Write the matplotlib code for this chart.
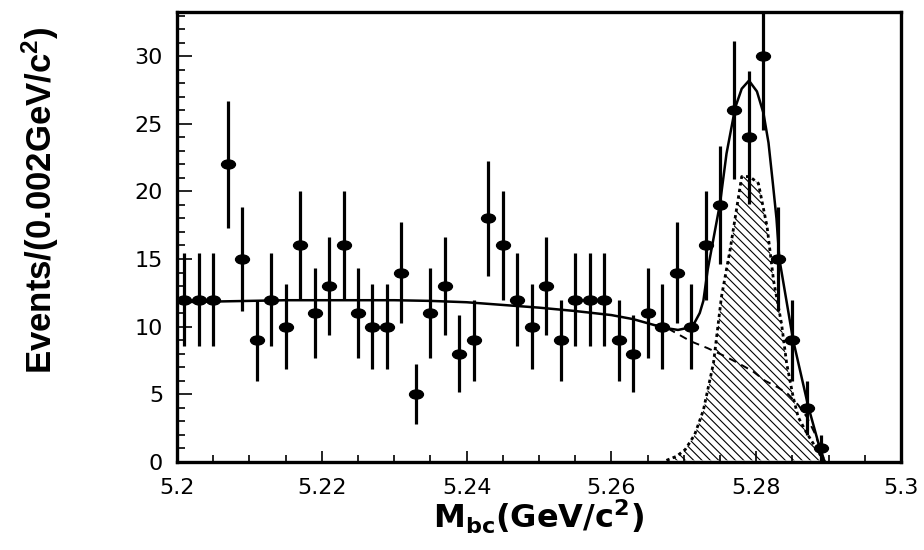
import numpy as np
import matplotlib
matplotlib.use('Agg')
import matplotlib.path as mpath
from matplotlib.transforms import Affine2D
from matplotlib import pyplot as plt

# histogram: events per 0.002 GeV/c^2 bin, starting at 5.200
bin_start = 5.200
bin_width = 0.002
counts = [12, 12, 12, 22, 15, 9, 12, 10, 16, 11,
          13, 16, 11, 10, 10, 14, 5, 11, 13, 8,
          9, 18, 16, 12, 10, 13, 9, 12, 12, 12,
          9, 8, 11, 10, 14, 10, 16, 19, 26, 24,
          30, 15, 9, 4, 1]

# total fit (solid)
fit_x = [5.200, 5.205, 5.210, 5.215, 5.220, 5.225, 5.230, 5.235, 5.240, 5.245,
         5.250, 5.255, 5.260, 5.263, 5.266, 5.268, 5.2692, 5.2705, 5.2715, 5.2722,
         5.2727, 5.2733, 5.2742, 5.2750, 5.2759, 5.2771, 5.2780, 5.2790, 5.2801, 5.2810,
         5.2817, 5.2823, 5.2828, 5.2832, 5.2851, 5.2872, 5.2891, 5.2895]
fit_y = [11.8, 11.85, 11.9, 11.95, 11.95, 11.95, 11.95, 11.9, 11.8, 11.6,
         11.4, 11.15, 10.85, 10.55, 10.1, 9.85, 9.75, 9.9, 10.3, 11.0,
         11.9, 14.2, 16.8, 19.1, 22.8, 26.2, 27.6, 28.2, 27.4, 25.8,
         23.6, 20.6, 18.0, 15.0, 9.0, 4.07, 0.4, 0.0]

# background (dashed)
bkg_x = [5.266, 5.268, 5.2690, 5.2710, 5.2733, 5.2755, 5.2775, 5.2795, 5.2812, 5.2830,
         5.2844, 5.2858, 5.2870, 5.2880, 5.2888, 5.2895]
bkg_y = [10.1, 9.8, 9.5, 8.9, 8.4, 7.85, 7.3, 6.7, 6.0, 5.5,
         5.0, 4.2, 3.3, 2.2, 1.1, 0.0]

# signal component (hatched)
sig_x = [5.2676, 5.2690, 5.2702, 5.2715, 5.2727, 5.2741, 5.2752, 5.2764, 5.2780, 5.2791,
         5.2803, 5.2815, 5.2824, 5.2835, 5.2842, 5.2851, 5.2858, 5.2870, 5.2884, 5.2893]
sig_y = [0.1, 0.4, 0.9, 2.0, 3.8, 7.3, 12.2, 15.7, 21.1, 21.1,
         20.6, 17.4, 13.4, 10.2, 7.3, 4.8, 3.3, 2.1, 0.9, 0.1]


def main():
    plt.rcParams['font.family'] = ['DejaVu Sans']
    plt.rcParams['mathtext.default'] = 'regular'
    plt.rcParams['hatch.linewidth'] = 0.8

    fig = plt.figure(figsize=(9.24, 5.5), dpi=100)
    ax = fig.add_axes([177 / 924, 1 - 461.7 / 550, 724 / 924, 450 / 550])

    x = np.round(bin_start + bin_width * (np.arange(len(counts)) + 0.5), 4)
    y = np.array(counts, dtype=float)
    err = np.sqrt(y)

    # signal shape
    ax.fill(sig_x, sig_y, facecolor='none', edgecolor='black', hatch='\\\\\\\\', linewidth=0)
    ax.plot(sig_x, sig_y, color='black', linestyle=(0, (1.2, 1.2)), linewidth=2.0)

    ax.plot(bkg_x, bkg_y, color='black', linestyle=(0, (4, 3)), linewidth=1.4)
    ax.plot(fit_x, fit_y, color='black', linewidth=1.8)

    ellipse = mpath.Path.unit_circle().transformed(Affine2D().scale(1.0, 0.65))
    ax.errorbar(x, y, yerr=err, fmt='none', ecolor='black', elinewidth=2.3)
    ax.plot(x, y, linestyle='none', marker=ellipse, markersize=10, color='black')

    ax.set_xlim(5.2, 5.3)
    ax.set_ylim(0, 33.3)
    ax.set_xticks([5.2, 5.22, 5.24, 5.26, 5.28, 5.3])
    ax.set_xticklabels(['5.2', '5.22', '5.24', '5.26', '5.28', '5.3'])
    ax.set_xticks(np.arange(5.2, 5.3, 0.005), minor=True)
    ax.set_yticks([0, 5, 10, 15, 20, 25, 30])
    ax.set_yticks(np.arange(0, 33.1, 1), minor=True)

    ax.tick_params(axis='both', which='both', direction='in', top=False, right=False,
                   width=1.2, labelsize=16)
    ax.tick_params(axis='y', which='major', length=11, pad=10)
    ax.tick_params(axis='y', which='minor', length=6)
    ax.tick_params(axis='x', which='major', length=8, pad=12)
    ax.tick_params(axis='x', which='minor', length=5)
    for spine in ax.spines.values():
        spine.set_linewidth(2.4)

    ax.set_xlabel('M$_{bc}$(GeV/c$^{2}$)', fontsize=23, fontweight='bold', labelpad=0)
    ax.set_ylabel('Events/(0.002GeV/c$^{2}$)', fontsize=25, fontweight='bold',
                  family=['Liberation Sans Narrow', 'Liberation Sans'])
    ax.yaxis.set_label_coords(-0.16, 0.58)

    fig.savefig('out.png', dpi=100)


if __name__ in '__main__':
    main()
